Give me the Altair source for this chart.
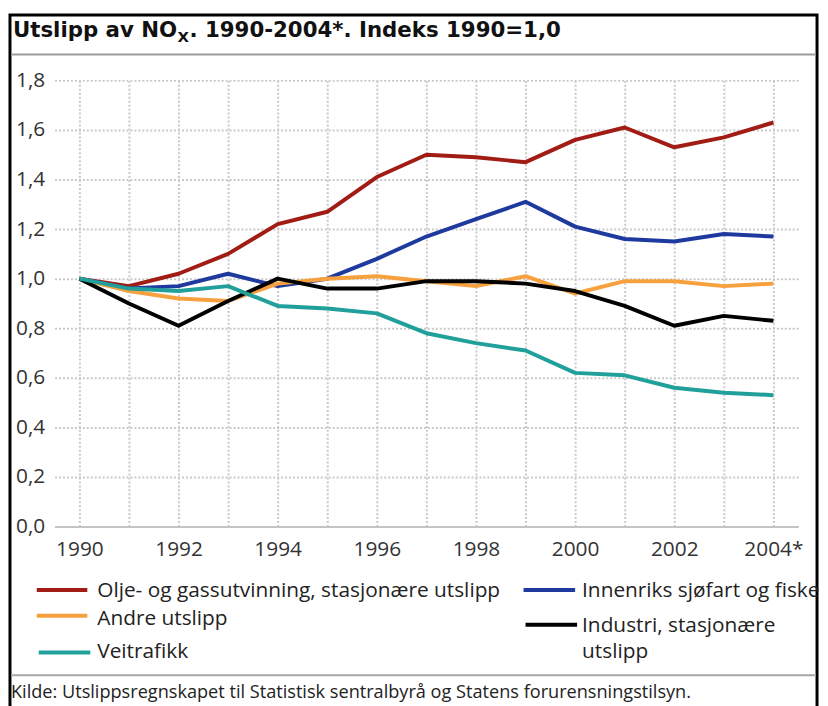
import altair as alt
import pandas as pd

years = list(range(1990, 2005))
series = [
    "Olje- og gassutvinning, stasjonære utslipp",
    "Innenriks sjøfart og fiske",
    "Andre utslipp",
    "Industri, stasjonære utslipp",
    "Veitrafikk",
]
colors = ["#a11c15", "#1f3a9e", "#f7a13e", "#000000", "#21a09b"]

olje = [1.00, 0.97, 1.02, 1.10, 1.22, 1.27, 1.41, 1.50, 1.49, 1.47, 1.56, 1.61, 1.53, 1.57, 1.63]
innenriks = [1.00, 0.96, 0.97, 1.02, 0.97, 1.00, 1.08, 1.17, 1.24, 1.31, 1.21, 1.16, 1.15, 1.18, 1.17]
andre = [1.00, 0.95, 0.92, 0.91, 0.98, 1.00, 1.01, 0.99, 0.97, 1.01, 0.94, 0.99, 0.99, 0.97, 0.98]
industri = [1.00, 0.90, 0.81, 0.91, 1.00, 0.96, 0.96, 0.99, 0.99, 0.98, 0.95, 0.89, 0.81, 0.85, 0.83]
veitrafikk = [1.00, 0.96, 0.95, 0.97, 0.89, 0.88, 0.86, 0.78, 0.74, 0.71, 0.62, 0.61, 0.56, 0.54, 0.53]

values = [olje, innenriks, andre, industri, veitrafikk]
y_ticks = [0.0, 0.2, 0.4, 0.6, 0.8, 1.0, 1.2, 1.4, 1.6, 1.8]

title_parts = ["Utslipp av NO", "X", ". 1990-2004*. Indeks 1990=1,0"]
legend_labels = [
    "Olje- og gassutvinning, stasjonære utslipp",
    "Innenriks sjøfart og fiske",
    "Andre utslipp",
    "Industri, stasjonære\nutslipp",
    "Veitrafikk",
]
source = "Kilde: Utslippsregnskapet til Statistisk sentralbyrå og Statens forurensningstilsyn."

rows = []
for name, vals in zip(series, values):
    for yr, v in zip(years, vals):
        rows.append({"year": yr, "value": v, "series": name})
df = pd.DataFrame(rows)

W, H = 750, 450
FONT = "Open Sans"
TFONT = "DejaVu Sans"

color_scale = alt.Scale(domain=series, range=colors)

lines = alt.Chart(df).mark_line(strokeWidth=4, strokeJoin="round").encode(
    x=alt.X(
        "year:Q",
        scale=alt.Scale(domain=[1989.5, 2004.5], nice=False, zero=False),
        axis=alt.Axis(
            values=years,
            title=None,
            ticks=False,
            grid=True,
            gridColor="#c9c9c9",
            gridDash=[2, 2],
            gridWidth=2,
            domain=True,
            domainColor="#c4c4c4",
            domainWidth=2,
            labelExpr="datum.value % 2 == 0 ? (datum.value == 2004 ? '2004*' : '' + datum.value) : ''",
            labelFont=FONT,
            labelFontSize=21,
            labelColor="#333333",
            labelPadding=12,
            labelOverlap=False,
            labelFlush=False,
        ),
    ),
    y=alt.Y(
        "value:Q",
        scale=alt.Scale(domain=[0, 1.8], nice=False),
        axis=alt.Axis(
            values=y_ticks,
            title=None,
            ticks=False,
            grid=True,
            gridColor="#c9c9c9",
            gridDash=[2, 2],
            gridWidth=2,
            domain=False,
            labelExpr="replace(format(datum.value, '.1f'), '.', ',')",
            labelFont=FONT,
            labelFontSize=21,
            labelColor="#333333",
            labelPadding=10,
        ),
    ),
    color=alt.Color("series:N", scale=color_scale, legend=None),
    order=alt.Order("series:N"),
)

# page coordinate helpers (plot origin at page 55, 78)
def px(v):
    return v - 55


def py(v):
    return v - 78


anno = pd.DataFrame({"k": [0]})
base = alt.Chart(anno)

layers = [lines]

# outer frame
layers.append(
    base.mark_rect(fill=None, stroke="black", strokeWidth=3).encode(
        x=alt.value(px(10)), x2=alt.value(px(824)), y=alt.value(py(12)), y2=alt.value(py(760))
    )
)
# title separator
layers.append(
    base.mark_rule(color="#9b9b9b", strokeWidth=2).encode(
        x=alt.value(px(11)), x2=alt.value(px(823)), y=alt.value(py(52))
    )
)
# legend/source separator
layers.append(
    base.mark_rule(color="#a8a8a8", strokeWidth=2).encode(
        x=alt.value(px(11)), x2=alt.value(px(823)), y=alt.value(py(678))
    )
)
# title
layers.append(
    base.mark_text(align="left", baseline="alphabetic", font=TFONT, fontSize=21.5, fontWeight="bold", color="#111111").encode(
        x=alt.value(px(13)), y=alt.value(py(34)), text=alt.value(title_parts[0])
    )
)
layers.append(
    base.mark_text(align="left", baseline="alphabetic", font=TFONT, fontSize=15, fontWeight="bold", color="#111111").encode(
        x=alt.value(px(179)), y=alt.value(py(39)), text=alt.value(title_parts[1])
    )
)
layers.append(
    base.mark_text(align="left", baseline="alphabetic", font=TFONT, fontSize=21.5, fontWeight="bold", color="#111111").encode(
        x=alt.value(px(191)), y=alt.value(py(34)), text=alt.value(title_parts[2])
    )
)
# source
layers.append(
    base.mark_text(align="left", baseline="middle", font=FONT, fontSize=18.3, color="#222222").encode(
        x=alt.value(px(11)), y=alt.value(py(696)), text=alt.value(source)
    )
)

# legend layout: (symbol x0, symbol x1, symbol y, text x, text y)
legend_pos = [
    (37, 88, 592, 98, 593),
    (528, 580, 592, 587, 593),
    (37, 88, 618, 98, 621),
    (530, 582, 627, 587, 628),
    (39, 91, 655, 98, 655),
]
for name, col, lab, (x0, x1, sy, tx, ty) in zip(series, colors, legend_labels, legend_pos):
    layers.append(
        base.mark_rule(color=col, strokeWidth=4).encode(
            x=alt.value(px(x0)), x2=alt.value(px(x1)), y=alt.value(py(sy))
        )
    )
    layers.append(
        base.mark_text(align="left", baseline="middle", font=FONT, fontSize=21, color="#222222",
                       lineBreak="\n", lineHeight=27).encode(
            x=alt.value(px(tx)), y=alt.value(py(ty)), text=alt.value(lab)
        )
    )

chart = alt.layer(*layers).properties(
    width=W,
    height=H,
    autosize=alt.AutoSizeParams(type="none"),
    padding={"left": 47, "top": 70, "right": 22, "bottom": 178},
    background="white",
).configure_view(stroke=None)

chart.save("out.html", embed_options={"renderer": "svg", "actions": False})
